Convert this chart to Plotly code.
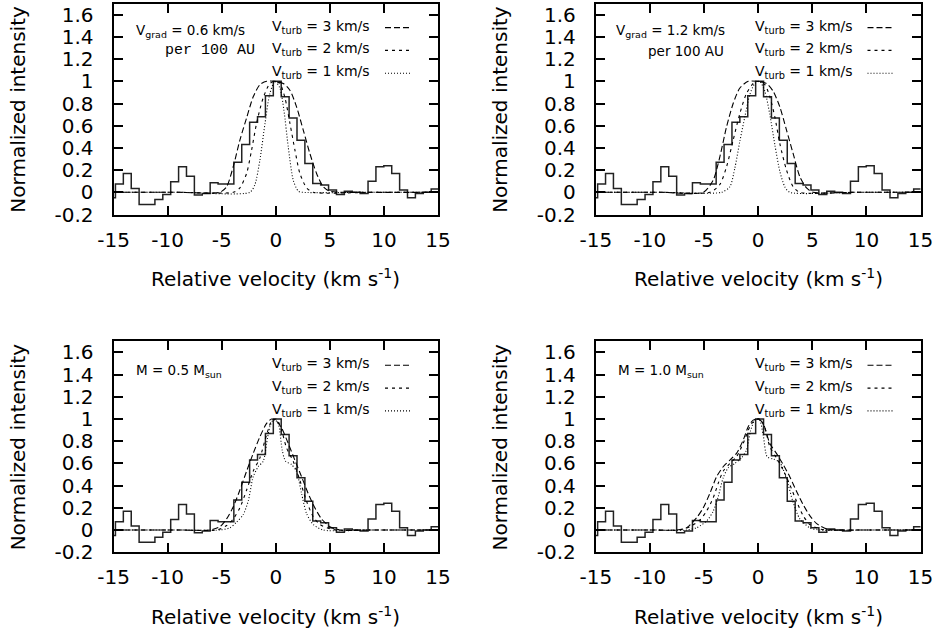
import plotly.graph_objects as go

W, H = 949, 632

# ---------------- data ----------------
# observed spectrum (channel centres, km/s) and normalized intensity
vel_obs = [-15.195, -14.465, -13.735, -13.005, -12.275, -11.545, -10.815, -10.085,
           -9.355, -8.625, -7.895, -7.165, -6.435, -5.705, -4.975, -4.245, -3.515,
           -2.785, -2.055, -1.325, -0.595, 0.135, 0.865, 1.595, 2.325, 3.055, 3.785,
           4.515, 5.245, 5.975, 6.705, 7.435, 8.165, 8.895, 9.625, 10.355, 11.085,
           11.815, 12.545, 13.275, 14.005, 14.735, 15.465]
int_obs = [-0.05, 0.075, 0.17, 0.035, -0.11, -0.11, -0.065, -0.02, 0.095, 0.23, 0.145,
           -0.025, -0.01, 0.085, 0.075, 0.075, 0.27, 0.43, 0.63, 0.68, 0.87, 1.0, 0.86,
           0.67, 0.47, 0.26, 0.08, 0.065, 0.02, -0.02, 0.01, 0.0, -0.01, 0.1, 0.23, 0.24,
           0.17, 0.02, -0.05, -0.01, 0.0, 0.03, 0.03]

# panel 1: Vgrad = 0.6 km/s per 100 AU
p1_t3_x = [-15, -9, -5.17, -4.55, -3.94, -3.32, -2.70, -2.09, -1.47, -0.85, -0.08, 0.69, 1.30, 1.92, 2.54, 3.15, 3.77, 4.39, 5.0, 9, 15]
p1_t3_y = [0, 0, 0, 0.05, 0.23, 0.47, 0.67, 0.86, 0.97, 1.0, 1.0, 0.98, 0.92, 0.77, 0.56, 0.35, 0.17, 0.05, 0.01, 0, 0]
p1_t2_x = [-15, -9, -3.94, -3.32, -2.70, -2.24, -1.78, -1.17, -0.55, -0.08, 0.38, 0.85, 1.31, 1.77, 2.23, 2.85, 3.46, 9, 15]
p1_t2_y = [0, 0, 0, 0.04, 0.17, 0.38, 0.62, 0.85, 0.98, 1.0, 0.98, 0.85, 0.62, 0.38, 0.17, 0.04, 0, 0, 0]
p1_t1_x = [-15, -9, -2.4, -1.93, -1.47, -1.0, -0.55, -0.08, 0.38, 0.75, 1.15, 1.61, 2.08, 2.5, 9, 15]
p1_t1_y = [0, 0, 0, 0.07, 0.29, 0.62, 0.89, 1.0, 0.94, 0.74, 0.41, 0.11, 0.01, 0, 0, 0]

# panel 2: Vgrad = 1.2 km/s per 100 AU
p2_t3_x = [-15, -9, -5.07, -4.15, -3.54, -2.92, -2.31, -1.69, -0.92, -0.15, 0.77, 1.39, 2.0, 2.62, 3.23, 3.85, 4.47, 5.08, 9, 15]
p2_t3_y = [0, 0, 0, 0.11, 0.32, 0.59, 0.80, 0.94, 1.0, 1.0, 0.98, 0.91, 0.77, 0.56, 0.35, 0.14, 0.04, 0, 0, 0]
p2_t2_x = [-15, -9, -4.46, -3.54, -2.92, -2.31, -1.69, -1.08, -0.46, 0.0, 0.62, 1.08, 1.54, 2.0, 2.62, 3.23, 3.85, 9, 15]
p2_t2_y = [0, 0, 0, 0.07, 0.23, 0.47, 0.71, 0.89, 0.98, 1.0, 0.97, 0.86, 0.68, 0.44, 0.2, 0.05, 0, 0, 0]
p2_t1_x = [-15, -9, -3.38, -2.61, -2.15, -1.69, -1.23, -0.77, -0.31, 0.15, 0.62, 1.08, 1.54, 2.0, 2.46, 2.92, 9, 15]
p2_t1_y = [0, 0, 0, 0.05, 0.22, 0.46, 0.68, 0.88, 0.98, 1.0, 0.91, 0.70, 0.43, 0.19, 0.05, 0, 0, 0]

# panel 3: M = 0.5 Msun
p3_t3_x = [-15, -9, -6.09, -5.17, -4.55, -3.93, -3.32, -2.70, -2.09, -1.47, -0.85, -0.39, 0.07, 0.53, 1.15, 1.76, 2.38, 2.99, 3.61, 4.23, 5.0, 5.92, 9, 15]
p3_t3_y = [0, 0, 0, 0.03, 0.10, 0.21, 0.36, 0.53, 0.69, 0.84, 0.96, 1.0, 0.98, 0.92, 0.78, 0.63, 0.48, 0.33, 0.20, 0.10, 0.03, 0, 0, 0]
p3_t2_x = [-15, -9, -5.47, -4.55, -3.93, -3.32, -2.70, -2.09, -1.47, -0.85, -0.39, 0.07, 0.53, 0.99, 1.61, 2.22, 2.84, 3.46, 4.08, 5.0, 5.6, 9, 15]
p3_t2_y = [0, 0, 0, 0.04, 0.10, 0.20, 0.36, 0.53, 0.65, 0.86, 0.98, 1.0, 0.90, 0.74, 0.62, 0.45, 0.26, 0.12, 0.05, 0.01, 0, 0, 0]
p3_t1_x = [-15, -9, -5.17, -4.24, -3.63, -3.01, -2.55, -2.09, -1.63, -1.16, -0.85, -0.55, -0.18, 0.22, 0.59, 0.90, 1.45, 1.91, 2.38, 2.84, 3.46, 4.39, 9, 15]
p3_t1_y = [0, 0, 0, 0.02, 0.07, 0.14, 0.26, 0.48, 0.57, 0.62, 0.78, 0.93, 1.0, 0.96, 0.72, 0.62, 0.59, 0.53, 0.33, 0.15, 0.05, 0, 0, 0]

# panel 4: M = 1.0 Msun
p4_t3_x = [-15, -10, -7.54, -6.61, -5.69, -5.07, -4.46, -3.84, -3.23, -2.61, -2.0, -1.38, -0.92, -0.46, 0.0, 0.46, 1.08, 1.69, 2.31, 2.92, 3.54, 4.15, 4.77, 5.38, 6.31, 7.23, 10, 15]
p4_t3_y = [0, 0, 0, 0.02, 0.11, 0.20, 0.33, 0.48, 0.57, 0.63, 0.69, 0.81, 0.93, 0.99, 1.0, 0.96, 0.78, 0.69, 0.59, 0.48, 0.35, 0.23, 0.13, 0.06, 0.01, 0, 0, 0]
p4_t2_x = [-15, -10, -7.23, -6.30, -5.38, -4.77, -4.15, -3.69, -3.23, -2.61, -2.0, -1.38, -0.77, -0.31, 0.15, 0.62, 1.08, 1.69, 2.31, 2.92, 3.54, 4.15, 4.77, 5.69, 6.3, 10, 15]
p4_t2_y = [0, 0, 0, 0.03, 0.09, 0.17, 0.29, 0.42, 0.53, 0.60, 0.66, 0.78, 0.93, 0.99, 1.0, 0.92, 0.75, 0.65, 0.54, 0.41, 0.26, 0.13, 0.05, 0.01, 0, 0, 0]
p4_t1_x = [-15, -10, -6.61, -5.69, -4.77, -4.15, -3.69, -3.23, -2.77, -2.15, -1.54, -1.08, -0.71, -0.31, 0.09, 0.46, 0.83, 1.39, 2.0, 2.62, 3.23, 3.85, 4.77, 5.69, 10, 15]
p4_t1_y = [0, 0, 0, 0.02, 0.08, 0.17, 0.30, 0.47, 0.56, 0.60, 0.65, 0.72, 0.89, 0.99, 1.0, 0.86, 0.66, 0.64, 0.61, 0.46, 0.25, 0.10, 0.02, 0, 0, 0]

x_ticks = [-15, -10, -5, 0, 5, 10, 15]
x_tick_text = ["-15", "-10", "-5", "0", "5", "10", "15"]
y_ticks = [-0.2, 0, 0.2, 0.4, 0.6, 0.8, 1, 1.2, 1.4, 1.6]
y_tick_text = ["-0.2", "0", "0.2", "0.4", "0.6", "0.8", "1", "1.2", "1.4", "1.6"]
legend_labels = ["V<sub>turb</sub> = 3 km/s", "V<sub>turb</sub> = 2 km/s", "V<sub>turb</sub> = 1 km/s"]
panel_notes = [
    ("V<sub>grad</sub> = 0.6 km/s", "per 100 AU", "mono"),
    ("V<sub>grad</sub> = 1.2 km/s", "per 100 AU", "sans"),
    ("M = 0.5 M<sub>sun</sub>", None, None),
    ("M = 1.0 M<sub>sun</sub>", None, None),
]
curves = [
    [(p1_t3_x, p1_t3_y), (p1_t2_x, p1_t2_y), (p1_t1_x, p1_t1_y)],
    [(p2_t3_x, p2_t3_y), (p2_t2_x, p2_t2_y), (p2_t1_x, p2_t1_y)],
    [(p3_t3_x, p3_t3_y), (p3_t2_x, p3_t2_y), (p3_t1_x, p3_t1_y)],
    [(p4_t3_x, p4_t3_y), (p4_t2_x, p4_t2_y), (p4_t1_x, p4_t1_y)],
]

# ---------------- layout geometry (pixels) ----------------
panels_px = [  # x0, x1, ytop, ybottom
    (113.6, 438.0, 3.6, 214.5),
    (595.8, 920.5, 3.6, 214.5),
    (113.6, 438.0, 341.3, 552.2),
    (595.8, 920.5, 341.3, 552.2),
]
dashes = ["6px,3px", "3px,4px", "1px,2px"]
FONT = "DejaVu Sans"


def px(x):
    return x / W


def py(y):
    return 1 - y / H


fig = go.Figure()
annotations = []
shapes = []

for i, (x0, x1, yt, yb) in enumerate(panels_px):
    n = "" if i == 0 else str(i + 1)
    xa, ya = "x" + n, "y" + n
    fig.add_trace(go.Scatter(x=vel_obs, y=int_obs, mode="lines", xaxis=xa, yaxis=ya,
                             line=dict(color="#222222", width=1.5, shape="hvh"),
                             showlegend=False, hoverinfo="skip"))
    for (cx, cy), d in zip(curves[i], dashes):
        fig.add_trace(go.Scatter(x=cx, y=cy, mode="lines", xaxis=xa, yaxis=ya,
                                 line=dict(color="black", width=1.1, dash=d,
                                           shape="spline", smoothing=0.7),
                                 showlegend=False, hoverinfo="skip"))
    axcommon = dict(showline=True, linewidth=2, linecolor="black", mirror="allticks",
                    ticks="inside", ticklen=9, tickwidth=1.5, tickcolor="black",
                    showgrid=False, zeroline=False, automargin=False,
                    tickfont=dict(family=FONT, size=20, color="black"))
    fig.update_layout(**{
        "xaxis" + n: dict(domain=[px(x0), px(x1)], range=[-15, 15], tickvals=x_ticks,
                          ticktext=x_tick_text, anchor=ya, ticklabelstandoff=6, **axcommon),
        "yaxis" + n: dict(domain=[py(yb), py(yt)], range=[-0.2, 1.7], tickvals=y_ticks,
                          ticktext=y_tick_text, anchor=xa, ticklabelstandoff=14, **axcommon),
    })
    # axis titles
    annotations.append(dict(x=px(x0 - 96), y=py((yt + yb) / 2), xref="paper", yref="paper",
                            text="Normalized intensity", textangle=-90, showarrow=False,
                            font=dict(family=FONT, size=20, color="black"),
                            xanchor="center", yanchor="middle"))
    annotations.append(dict(x=px((x0 + x1) / 2), y=py(yb + 63.5), xref="paper", yref="paper",
                            text="Relative velocity (km s<sup>-1</sup>)", showarrow=False,
                            font=dict(family=FONT, size=20, color="black"),
                            xanchor="center", yanchor="middle"))
    # key
    for r, (lab, d) in enumerate(zip(legend_labels, dashes)):
        yy = yt + 23 + r * 22.8
        annotations.append(dict(x=px(x1 - 66), y=py(yy), xref="paper", yref="paper",
                                text=lab, showarrow=False, xanchor="right", yanchor="middle",
                                font=dict(family=FONT, size=14, color="black")))
        shapes.append(dict(type="line", xref="paper", yref="paper",
                           x0=px(x1 - 53), x1=px(x1 - 28), y0=py(yy + 1), y1=py(yy + 1),
                           line=dict(color="black", width=1.1, dash=d)))
    # notes
    note, note2, style = panel_notes[i]
    if note2 is None:
        annotations.append(dict(x=px(x0 + 20), y=py(yt + 30), xref="paper", yref="paper",
                                text=note, showarrow=False, xanchor="left", yanchor="middle",
                                font=dict(family=FONT, size=13.5, color="black")))
    elif style == "mono":
        annotations.append(dict(x=px(x0 + 20), y=py(yt + 27), xref="paper", yref="paper",
                                text=note, showarrow=False, xanchor="left", yanchor="middle",
                                font=dict(family=FONT, size=13.5, color="black")))
        annotations.append(dict(x=px(x0 + 143), y=py(yt + 47), xref="paper", yref="paper",
                                text=note2, showarrow=False, xanchor="right", yanchor="middle",
                                font=dict(family="Liberation Mono", size=15, color="black")))
    else:
        annotations.append(dict(x=px(x0 + 131), y=py(yt + 27), xref="paper", yref="paper",
                                text=note, showarrow=False, xanchor="right", yanchor="middle",
                                font=dict(family=FONT, size=13.5, color="black")))
        annotations.append(dict(x=px(x0 + 130), y=py(yt + 47), xref="paper", yref="paper",
                                text=note2, showarrow=False, xanchor="right", yanchor="middle",
                                font=dict(family=FONT, size=13.5, color="black")))

fig.update_layout(width=W, height=H, margin=dict(l=0, r=0, t=0, b=0, pad=0),
                  paper_bgcolor="white", plot_bgcolor="white", showlegend=False,
                  annotations=annotations, shapes=shapes)

fig.write_html("out.html", config={"displayModeBar": False},
               post_script="document.body.style.margin='0';")
